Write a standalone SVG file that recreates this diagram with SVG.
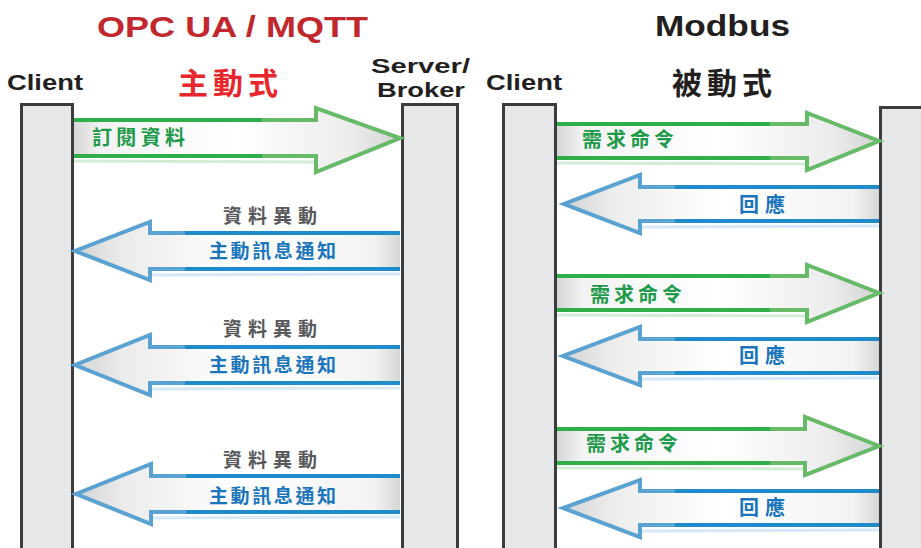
<svg xmlns="http://www.w3.org/2000/svg" width="921" height="548" viewBox="0 0 921 548">
<defs>
<linearGradient id="gR" x1="0" y1="0" x2="1" y2="0">
<stop offset="0" stop-color="#d6d6d6"/><stop offset="0.08" stop-color="#f3f3f3"/><stop offset="0.5" stop-color="#ffffff"/><stop offset="0.85" stop-color="#ececec"/><stop offset="1" stop-color="#d2d3d4"/>
</linearGradient>
<linearGradient id="gL" x1="1" y1="0" x2="0" y2="0">
<stop offset="0" stop-color="#d6d6d6"/><stop offset="0.08" stop-color="#f3f3f3"/><stop offset="0.5" stop-color="#ffffff"/><stop offset="0.85" stop-color="#ececec"/><stop offset="1" stop-color="#d2d3d4"/>
</linearGradient>
</defs>
<style>
.bar{fill:#e6e7e8;stroke:#3c3c3c;stroke-width:3}
.lat{font-family:"Liberation Sans",Arial,sans-serif;font-weight:bold;fill:#231f20}
.cjk{font-family:"Noto Sans CJK TC","Noto Sans CJK SC",sans-serif;font-weight:bold}
.gf{fill:url(#gR)}
.bf{fill:url(#gL)}
.gs{fill:none;stroke:#2fae4a;stroke-width:4}
.gh{fill:none;stroke:#66ba68;stroke-width:4;stroke-linejoin:miter}
.bs{fill:none;stroke:#1f8cca;stroke-width:4}
.bh{fill:none;stroke:#5aa2d2;stroke-width:4;stroke-linejoin:miter}
.gsh{fill:none;stroke:#d3ecd6;stroke-width:3}
.bsh{fill:none;stroke:#d7e9f6;stroke-width:3}
.gl{fill:#1e9a4b}
.bl{fill:#1b75bc}
.dl{fill:#58595b}
</style>
<rect width="921" height="548" fill="#ffffff"/>

<g id="titles">
<text class="lat" x="97" y="37" font-size="30" textLength="271" lengthAdjust="spacingAndGlyphs" style="fill:#c1272d">OPC UA / MQTT</text>
<text class="cjk" x="178" y="94" font-size="30" textLength="100" lengthAdjust="spacing" style="fill:#e8262c">主動式</text>
<text class="lat" x="655" y="36" font-size="30" textLength="135" lengthAdjust="spacingAndGlyphs">Modbus</text>
<text class="cjk" x="672" y="94" font-size="30" textLength="100" lengthAdjust="spacing" style="fill:#231f20">被動式</text>
</g>

<g id="client-left">
<rect class="bar" x="21.5" y="104.5" width="51" height="460"/>
<text class="lat" x="7" y="90" font-size="22" textLength="76" lengthAdjust="spacingAndGlyphs">Client</text>
</g>
<g id="server-broker">
<rect class="bar" x="402.5" y="104.5" width="55" height="460"/>
<text class="lat" x="371" y="73" font-size="21" textLength="99" lengthAdjust="spacingAndGlyphs">Server/</text>
<text class="lat" x="377" y="97" font-size="21" textLength="88" lengthAdjust="spacingAndGlyphs">Broker</text>
</g>
<g id="client-right">
<rect class="bar" x="503.5" y="104.5" width="52" height="460"/>
<text class="lat" x="486" y="90" font-size="22" textLength="76" lengthAdjust="spacingAndGlyphs">Client</text>
</g>
<g id="modbus-server">
<rect class="bar" x="880.5" y="107.5" width="50" height="460"/>
</g>

<g id="connectors">
<g id="a1">
<polygon class="gf" points="74,120 316,120 316,108 400,138 316,172 316,156 74,156"/>
<polyline class="gsh" points="74,161 316,162"/>
<polyline class="gs" points="74,120 316,120"/>
<polyline class="gs" points="74,156 316,156"/>
<polyline class="gh" points="262,120 316,120 316,108 400,138 316,172 316,156 262,156"/>
<text class="cjk gl" x="92" y="145" font-size="20" textLength="93" lengthAdjust="spacing">訂閱資料</text>
</g>
<g id="a2">
<polygon class="bf" points="400,233 150,233 150,222 75,251 150,280 150,269 400,269"/>
<polyline class="bsh" points="400,274 150,275"/>
<polyline class="bs" points="400,233 150,233"/>
<polyline class="bs" points="400,269 150,269"/>
<polyline class="bh" points="185,233 150,233 150,222 75,251 150,280 150,269 185,269"/>
<text class="cjk dl" x="223" y="223" font-size="19" textLength="94" lengthAdjust="spacing">資料異動</text>
<text class="cjk bl" x="209" y="258" font-size="19" textLength="127" lengthAdjust="spacing">主動訊息通知</text>
</g>
<g id="a3">
<polygon class="bf" points="400,347 150,347 150,335 75,365 150,395 150,383 400,383"/>
<polyline class="bsh" points="400,388 150,389"/>
<polyline class="bs" points="400,347 150,347"/>
<polyline class="bs" points="400,383 150,383"/>
<polyline class="bh" points="185,347 150,347 150,335 75,365 150,395 150,383 185,383"/>
<text class="cjk dl" x="223" y="336" font-size="19" textLength="94" lengthAdjust="spacing">資料異動</text>
<text class="cjk bl" x="209" y="372" font-size="19" textLength="127" lengthAdjust="spacing">主動訊息通知</text>
</g>
<g id="a4">
<polygon class="bf" points="400,476 151,476 151,464 76,494 151,524 151,512 400,512"/>
<polyline class="bsh" points="400,517 151,518"/>
<polyline class="bs" points="400,476 151,476"/>
<polyline class="bs" points="400,512 151,512"/>
<polyline class="bh" points="186,476 151,476 151,464 76,494 151,524 151,512 186,512"/>
<text class="cjk dl" x="223" y="467" font-size="19" textLength="94" lengthAdjust="spacing">資料異動</text>
<text class="cjk bl" x="209" y="503" font-size="19" textLength="127" lengthAdjust="spacing">主動訊息通知</text>
</g>
<g id="r1">
<polygon class="gf" points="557,124 807,124 807,113 879,141 807,170 807,158 557,158"/>
<polyline class="gsh" points="557,163 807,164"/>
<polyline class="gs" points="557,124 807,124"/>
<polyline class="gs" points="557,158 807,158"/>
<polyline class="gh" points="770,124 807,124 807,113 879,141 807,170 807,158 770,158"/>
<text class="cjk gl" x="582" y="147" font-size="20" textLength="92" lengthAdjust="spacing">需求命令</text>
</g>
<g id="r2">
<polygon class="bf" points="879,187 640,187 640,175 564,204 640,233 640,221 879,221"/>
<polyline class="bsh" points="879,226 640,227"/>
<polyline class="bs" points="879,187 640,187"/>
<polyline class="bs" points="879,221 640,221"/>
<polyline class="bh" points="675,187 640,187 640,175 564,204 640,233 640,221 675,221"/>
<text class="cjk bl" x="739" y="212" font-size="20" textLength="46" lengthAdjust="spacing">回應</text>
</g>
<g id="r3">
<polygon class="gf" points="557,276 807,276 807,265 879,293 807,322 807,310 557,310"/>
<polyline class="gsh" points="557,315 807,316"/>
<polyline class="gs" points="557,276 807,276"/>
<polyline class="gs" points="557,310 807,310"/>
<polyline class="gh" points="770,276 807,276 807,265 879,293 807,322 807,310 770,310"/>
<text class="cjk gl" x="590" y="302" font-size="20" textLength="92" lengthAdjust="spacing">需求命令</text>
</g>
<g id="r4">
<polygon class="bf" points="879,339 640,339 640,327 563,356 640,385 640,373 879,373"/>
<polyline class="bsh" points="879,378 640,379"/>
<polyline class="bs" points="879,339 640,339"/>
<polyline class="bs" points="879,373 640,373"/>
<polyline class="bh" points="675,339 640,339 640,327 563,356 640,385 640,373 675,373"/>
<text class="cjk bl" x="739" y="363" font-size="20" textLength="46" lengthAdjust="spacing">回應</text>
</g>
<g id="r5">
<polygon class="gf" points="557,429 805,429 805,417 879,446 805,475 805,463 557,463"/>
<polyline class="gsh" points="557,468 805,469"/>
<polyline class="gs" points="557,429 805,429"/>
<polyline class="gs" points="557,463 805,463"/>
<polyline class="gh" points="770,429 805,429 805,417 879,446 805,475 805,463 770,463"/>
<text class="cjk gl" x="586" y="451" font-size="20" textLength="92" lengthAdjust="spacing">需求命令</text>
</g>
<g id="r6">
<polygon class="bf" points="879,491 640,491 640,480 563,508 640,537 640,525 879,525"/>
<polyline class="bsh" points="879,530 640,531"/>
<polyline class="bs" points="879,491 640,491"/>
<polyline class="bs" points="879,525 640,525"/>
<polyline class="bh" points="675,491 640,491 640,480 563,508 640,537 640,525 675,525"/>
<text class="cjk bl" x="739" y="515" font-size="20" textLength="46" lengthAdjust="spacing">回應</text>
</g>
</g>
</svg>
